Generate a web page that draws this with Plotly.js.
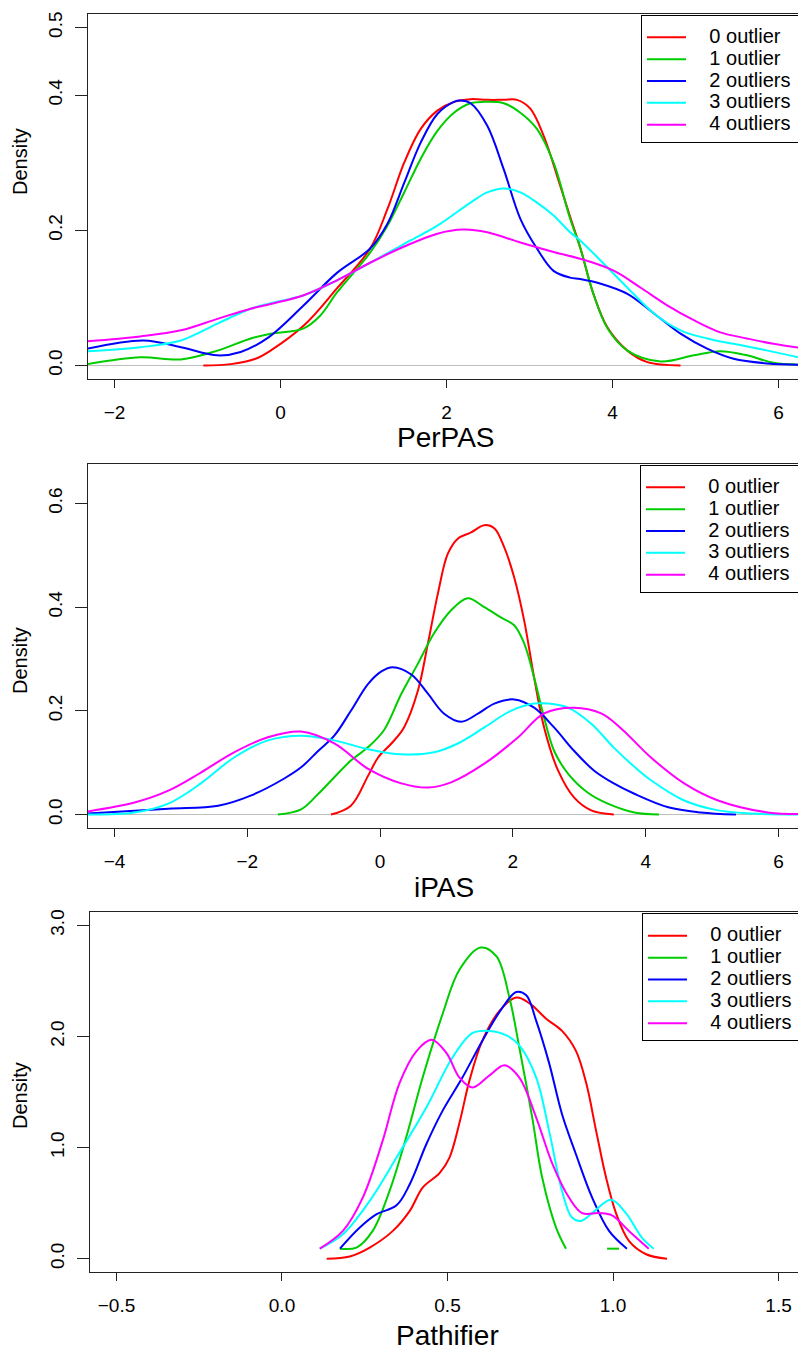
<!DOCTYPE html>
<html>
<head>
<meta charset="utf-8">
<script src="https://cdn.plot.ly/plotly-3.0.1.min.js"></script>
<style>
html,body{margin:0;padding:0;overflow:hidden;background:#fff;}
#chart{width:840px;height:1350px;}
</style>
</head>
<body>
<div id="chart"></div>
<script>
// ---------- data ----------
const seriesNames = ["0 outlier", "1 outlier", "2 outliers", "3 outliers", "4 outliers"];
const seriesColors = ["#FF0000", "#00CD00", "#0000FF", "#00FFFF", "#FF00FF"];

// Panel 1: PerPAS
const perpasX0 = [-0.93, -0.6, -0.3, -0.12, 0.28, 0.68, 1.08, 1.29, 1.49, 1.69, 1.89, 2.09, 2.29, 2.49, 2.69, 2.85, 3.01, 3.17, 3.37, 3.49, 3.61, 3.77, 3.94, 4.18, 4.42, 4.82];
const perpasY0 = [0, 0.002, 0.01, 0.022, 0.059, 0.114, 0.173, 0.232, 0.30, 0.35, 0.377, 0.39, 0.394, 0.393, 0.393, 0.393, 0.38, 0.34, 0.266, 0.22, 0.175, 0.106, 0.056, 0.022, 0.005, 0];
const perpasX1 = [-2.32, -1.69, -1.2, -0.76, -0.36, -0.12, 0.28, 0.48, 0.68, 1.08, 1.29, 1.49, 1.69, 1.89, 2.09, 2.29, 2.45, 2.69, 2.89, 3.09, 3.29, 3.49, 3.61, 3.77, 3.94, 4.18, 4.58, 4.98, 5.3, 5.62, 5.94, 6.32];
const perpasY1 = [0.002, 0.012, 0.009, 0.022, 0.04, 0.047, 0.055, 0.074, 0.108, 0.167, 0.207, 0.256, 0.306, 0.347, 0.374, 0.388, 0.39, 0.388, 0.374, 0.35, 0.30, 0.217, 0.175, 0.106, 0.055, 0.022, 0.006, 0.015, 0.021, 0.015, 0.004, 0.001];
const perpasX2 = [-2.32, -1.65, -1.2, -0.76, -0.48, -0.14, 0.28, 0.68, 1.08, 1.29, 1.49, 1.69, 1.89, 2.09, 2.17, 2.29, 2.49, 2.69, 2.89, 3.09, 3.29, 3.49, 3.61, 3.86, 4.18, 4.5, 4.82, 5.14, 5.46, 5.87, 6.32];
const perpasY2 = [0.025, 0.037, 0.027, 0.015, 0.02, 0.042, 0.089, 0.137, 0.173, 0.21, 0.27, 0.33, 0.372, 0.39, 0.392, 0.388, 0.355, 0.29, 0.217, 0.173, 0.14, 0.13, 0.128, 0.121, 0.106, 0.077, 0.047, 0.025, 0.01, 0.003, 0.001];
const perpasX3 = [-2.32, -1.69, -1.2, -0.76, -0.36, -0.12, 0.28, 0.68, 1.08, 1.49, 1.89, 2.29, 2.49, 2.69, 2.89, 3.09, 3.29, 3.49, 3.61, 3.86, 4.18, 4.5, 4.82, 5.14, 5.46, 5.87, 6.32];
const perpasY3 = [0.021, 0.027, 0.037, 0.062, 0.084, 0.092, 0.104, 0.126, 0.152, 0.18, 0.207, 0.241, 0.256, 0.262, 0.256, 0.241, 0.222, 0.197, 0.185, 0.155, 0.115, 0.077, 0.052, 0.04, 0.032, 0.022, 0.01];
const perpasX4 = [-2.32, -1.69, -1.2, -0.76, -0.36, -0.12, 0.28, 0.68, 1.08, 1.49, 1.89, 2.2, 2.49, 2.89, 3.29, 3.61, 4.02, 4.34, 4.66, 4.98, 5.3, 5.62, 5.94, 6.32];
const perpasY4 = [0.036, 0.043, 0.052, 0.069, 0.084, 0.091, 0.104, 0.126, 0.152, 0.176, 0.195, 0.201, 0.197, 0.182, 0.168, 0.158, 0.14, 0.115, 0.089, 0.067, 0.049, 0.04, 0.032, 0.025];

// Panel 2: iPAS
const ipasX0 = [-0.74, -0.44, -0.18, -0.03, 0.17, 0.36, 0.57, 0.72, 0.87, 1.02, 1.17, 1.37, 1.57, 1.72, 1.87, 2.02, 2.17, 2.32, 2.47, 2.68, 2.92, 3.18, 3.52];
const ipasY0 = [0, 0.017, 0.075, 0.11, 0.137, 0.168, 0.239, 0.33, 0.426, 0.503, 0.532, 0.544, 0.558, 0.552, 0.515, 0.457, 0.374, 0.264, 0.168, 0.085, 0.033, 0.008, 0];
const ipasX1 = [-1.54, -1.19, -0.93, -0.69, -0.44, -0.18, 0.06, 0.32, 0.57, 0.81, 1.07, 1.32, 1.57, 1.82, 2.02, 2.17, 2.32, 2.47, 2.62, 2.83, 3.13, 3.43, 3.83, 4.2];
const ipasY1 = [0, 0.01, 0.04, 0.072, 0.104, 0.13, 0.163, 0.233, 0.291, 0.349, 0.394, 0.417, 0.4, 0.38, 0.365, 0.33, 0.264, 0.187, 0.123, 0.079, 0.042, 0.021, 0.004, 0];
const ipasX2 = [-4.4, -3.19, -2.44, -1.94, -1.45, -1.19, -0.93, -0.69, -0.44, -0.18, 0.02, 0.19, 0.47, 0.72, 0.96, 1.22, 1.48, 1.72, 2.02, 2.32, 2.62, 2.92, 3.22, 3.52, 3.83, 4.34, 4.83, 5.36];
const ipasY2 = [0.002, 0.011, 0.017, 0.037, 0.069, 0.091, 0.123, 0.152, 0.2, 0.252, 0.276, 0.284, 0.27, 0.233, 0.195, 0.179, 0.195, 0.214, 0.222, 0.206, 0.168, 0.123, 0.085, 0.06, 0.04, 0.014, 0.004, 0];
const ipasX3 = [-4.4, -3.7, -3.19, -2.7, -2.2, -1.69, -1.19, -0.69, -0.18, 0.32, 0.81, 1.17, 1.57, 1.97, 2.32, 2.53, 2.83, 3.18, 3.52, 3.83, 4.08, 4.58, 5.09, 5.6, 6.4];
const ipasY3 = [0, 0.004, 0.021, 0.06, 0.11, 0.143, 0.152, 0.143, 0.126, 0.116, 0.12, 0.137, 0.168, 0.2, 0.214, 0.214, 0.206, 0.175, 0.129, 0.092, 0.066, 0.027, 0.008, 0.002, 0];
const ipasX4 = [-4.4, -3.7, -3.19, -2.7, -2.2, -1.69, -1.19, -0.69, -0.18, 0.32, 0.72, 1.07, 1.57, 2.08, 2.47, 2.92, 3.33, 3.63, 4.08, 4.58, 5.09, 5.84, 6.4];
const ipasY4 = [0.006, 0.023, 0.046, 0.081, 0.12, 0.149, 0.16, 0.137, 0.088, 0.06, 0.052, 0.062, 0.098, 0.149, 0.195, 0.206, 0.195, 0.166, 0.11, 0.06, 0.027, 0.004, 0.001];

// Panel 3: Pathifier
const pathX0 = [0.135, 0.205, 0.265, 0.335, 0.386, 0.425, 0.476, 0.506, 0.536, 0.566, 0.605, 0.657, 0.708, 0.747, 0.798, 0.846, 0.888, 0.919, 0.949, 0.979, 1.009, 1.048, 1.1, 1.163];
const pathY0 = [0, 0.02, 0.1, 0.25, 0.43, 0.64, 0.77, 0.91, 1.22, 1.6, 1.96, 2.23, 2.35, 2.3, 2.16, 2.05, 1.87, 1.58, 1.15, 0.73, 0.41, 0.16, 0.04, 0];
const pathX1 = [0.175, 0.225, 0.274, 0.325, 0.376, 0.425, 0.485, 0.536, 0.6, 0.648, 0.687, 0.717, 0.756, 0.786, 0.828, 0.858, null, 0.982, 1.018];
const pathY1 = [0.09, 0.1, 0.25, 0.61, 1.1, 1.63, 2.2, 2.6, 2.8, 2.72, 2.35, 1.9, 1.27, 0.73, 0.28, 0.09, null, 0.09, 0.09];
const pathX2 = [0.175, 0.235, 0.286, 0.346, 0.386, 0.436, 0.485, 0.545, 0.605, 0.666, 0.708, 0.738, 0.768, 0.807, 0.846, 0.888, 0.937, 0.988, 1.042];
const pathY2 = [0.09, 0.28, 0.4, 0.48, 0.67, 1.03, 1.33, 1.63, 1.96, 2.26, 2.4, 2.37, 2.14, 1.76, 1.3, 0.94, 0.55, 0.25, 0.09];
const pathX3 = [0.114, 0.184, 0.265, 0.346, 0.436, 0.515, 0.575, 0.627, 0.678, 0.717, 0.768, 0.807, 0.846, 0.876, 0.903, 0.937, 0.994, 1.039, 1.087, 1.123];
const pathY3 = [0.09, 0.22, 0.52, 0.91, 1.36, 1.81, 2.03, 2.05, 2.01, 1.92, 1.63, 1.15, 0.61, 0.37, 0.34, 0.41, 0.53, 0.41, 0.19, 0.09];
const pathX4 = [0.114, 0.184, 0.244, 0.304, 0.355, 0.407, 0.452, 0.497, 0.536, 0.575, 0.627, 0.672, 0.717, 0.768, 0.816, 0.867, 0.907, 0.958, 0.997, 1.048, 1.108];
const pathY4 = [0.09, 0.25, 0.55, 1.06, 1.58, 1.87, 1.97, 1.85, 1.63, 1.54, 1.65, 1.74, 1.63, 1.27, 0.86, 0.55, 0.41, 0.41, 0.39, 0.25, 0.09];

// Axis ticks and titles
const panelTitles = ["PerPAS", "iPAS", "Pathifier"];
const yTitle = "Density";
const xTicks1 = [-2, 0, 2, 4, 6];
const yTicks1 = [0, 0.2, 0.4, 0.5];
const xTicks2 = [-4, -2, 0, 2, 4, 6];
const yTicks2 = [0, 0.2, 0.4, 0.6];
const xTicks3 = [-0.5, 0, 0.5, 1, 1.5];
const yTicks3 = [0, 1, 2, 3];

// ---------- figure ----------
const W = 840, H = 1350;
const pxX = v => v / W;
const pxY = v => 1 - v / H;

function legendLabel(name) {
  return '<span style="font-size:22px">\u00a0\u00a0\u00a0</span>' +
         '<span style="font-size:20px">' + name + '</span>' +
         '<span style="font-size:10px">\u00a0</span>';
}

const panels = [
  {xs: [perpasX0, perpasX1, perpasX2, perpasX3, perpasX4], ys: [perpasY0, perpasY1, perpasY2, perpasY3, perpasY4], xa: 'x', ya: 'y', leg: 'legend'},
  {xs: [ipasX0, ipasX1, ipasX2, ipasX3, ipasX4], ys: [ipasY0, ipasY1, ipasY2, ipasY3, ipasY4], xa: 'x2', ya: 'y2', leg: 'legend2'},
  {xs: [pathX0, pathX1, pathX2, pathX3, pathX4], ys: [pathY0, pathY1, pathY2, pathY3, pathY4], xa: 'x3', ya: 'y3', leg: 'legend3'}
];

const traces = [];
panels.forEach(p => {
  for (let i = 0; i < 5; i++) {
    traces.push({
      type: 'scatter', mode: 'lines',
      x: p.xs[i], y: p.ys[i],
      name: legendLabel(seriesNames[i]),
      line: {color: seriesColors[i], width: 2, shape: 'spline', smoothing: 1},
      xaxis: p.xa, yaxis: p.ya, legend: p.leg,
      connectgaps: false, hoverinfo: 'skip'
    });
  }
});

const axCommon = {
  showgrid: false, showline: true, linecolor: '#222', linewidth: 1, mirror: true,
  ticks: 'outside', tickcolor: '#222', tickwidth: 1,
  tickfont: {size: 19, color: '#000'}, fixedrange: true
};
function xAx(domain, range, ticks, fmt, anchor) {
  return Object.assign({}, axCommon, {domain, range, anchor, tickmode: 'array', tickvals: ticks,
    tickformat: fmt, ticklen: 8, ticklabelstandoff: 8, zeroline: false});
}
function yAx(domain, range, ticks, anchor, zero) {
  return Object.assign({}, axCommon, {domain, range, anchor, tickmode: 'array', tickvals: ticks,
    tickformat: '.1f', ticklen: 12, tickangle: -90, ticklabelstandoff: 5,
    zeroline: zero, zerolinecolor: '#bebebe', zerolinewidth: 1});
}
function legendBox(xPx, yPx) {
  return {x: pxX(xPx), y: pxY(yPx), xanchor: 'left', yanchor: 'top',
    bordercolor: '#000', borderwidth: 1, bgcolor: 'rgba(255,255,255,0)',
    font: {size: 14.5, color: '#000'}, itemwidth: 39, traceorder: 'normal',
    title: {text: '\u00a0', font: {size: 4.5}, side: 'top'}};
}

const layout = {
  width: W, height: H,
  margin: {l: 0, r: 0, t: 0, b: 0},
  paper_bgcolor: '#fff', plot_bgcolor: '#fff',
  font: {family: 'Liberation Sans, Arial, Helvetica, sans-serif', color: '#000'},
  showlegend: true,
  xaxis: xAx([pxX(88), pxX(805)], [-2.32, 6.32], xTicks1, '', 'y'),
  yaxis: yAx([pxY(379), pxY(14)], [-0.02, 0.52], yTicks1, 'x', true),
  xaxis2: xAx([pxX(88), pxX(805)], [-4.4, 6.4], xTicks2, '', 'y2'),
  yaxis2: yAx([pxY(828), pxY(464)], [-0.026, 0.676], yTicks2, 'x2', true),
  xaxis3: xAx([pxX(90), pxX(805)], [-0.58, 1.58], xTicks3, '.1f', 'y3'),
  yaxis3: yAx([pxY(1272), pxY(912)], [-0.12, 3.12], yTicks3, 'x3', false),
  legend: legendBox(641, 14.5),
  legend2: legendBox(640, 464.5),
  legend3: legendBox(642, 913),
  annotations: [
    {text: panelTitles[0], x: pxX(446), y: pxY(437)},
    {text: panelTitles[1], x: pxX(444), y: pxY(887)},
    {text: panelTitles[2], x: pxX(447), y: pxY(1335)}
  ].map(a => Object.assign(a, {xref: 'paper', yref: 'paper', showarrow: false,
      xanchor: 'center', yanchor: 'middle', font: {size: 28, color: '#000'}}))
  .concat([162, 661, 1096].map(yy => ({
      text: yTitle, x: pxX(20), y: pxY(yy), xref: 'paper', yref: 'paper', showarrow: false,
      textangle: -90, xanchor: 'center', yanchor: 'middle', font: {size: 20, color: '#000'}})))
};

Plotly.newPlot('chart', traces, layout, {staticPlot: true, displayModeBar: false});
</script>
</body>
</html>
